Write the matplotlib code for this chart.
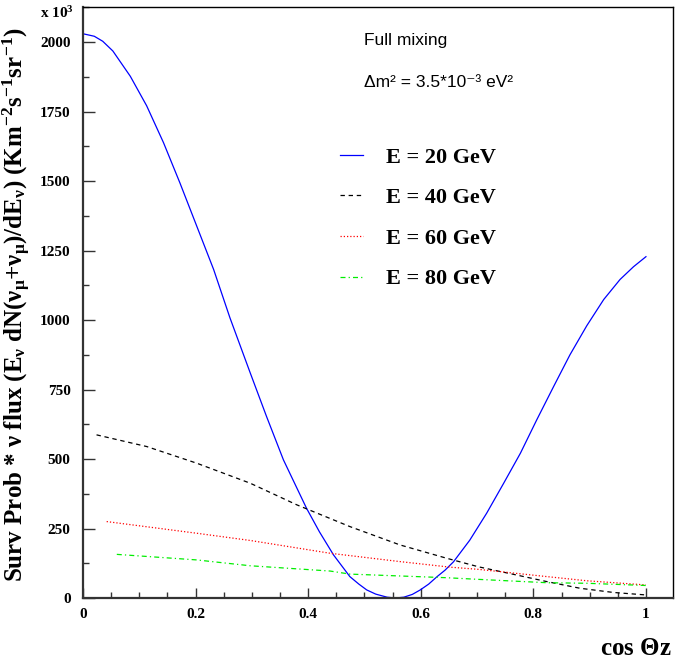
import matplotlib

matplotlib.use("Agg")
import matplotlib.pyplot as plt
from matplotlib.ticker import MultipleLocator

plt.rcParams["font.family"] = ["Liberation Serif", "DejaVu Serif"]
plt.rcParams["font.weight"] = "bold"
plt.rcParams["mathtext.fontset"] = "custom"
plt.rcParams["mathtext.rm"] = "Liberation Serif:bold"
plt.rcParams["mathtext.it"] = "Liberation Serif:bold"
plt.rcParams["mathtext.bf"] = "Liberation Serif:bold"

# values (y in units of 10^3)
cos_e20 = [0.0, 0.02, 0.035, 0.053, 0.084, 0.113, 0.143, 0.172, 0.202, 0.232,
           0.261, 0.297, 0.326, 0.356, 0.397, 0.42, 0.445, 0.474, 0.49, 0.504,
           0.52, 0.54, 0.555, 0.57, 0.585, 0.599, 0.614, 0.629, 0.643, 0.658,
           0.687, 0.717, 0.747, 0.777, 0.806, 0.836, 0.865, 0.895, 0.925, 0.954,
           0.978, 1.0]
flux_e20 = [2030, 2021, 2003, 1968, 1877, 1771, 1638, 1494, 1338, 1182,
            1008, 810, 653, 497, 323, 238, 155, 77, 50, 29,
            14, 3, 0, 3, 13, 29, 50, 77, 100, 130,
            208, 305, 412, 521, 641, 761, 875, 980, 1074, 1146,
            1192, 1228]

cos_e40 = [0.024, 0.113, 0.202, 0.297, 0.380, 0.474, 0.563, 0.646, 0.703,
           0.765, 0.824, 0.883, 0.942, 1.0]
flux_e40 = [587, 545, 485, 413, 335, 257, 191, 143, 112, 85, 59, 35, 20, 11]

cos_e60 = [0.042, 0.202, 0.297, 0.439, 0.563, 0.652, 0.703, 0.824, 0.895, 1.0]
flux_e60 = [275, 233, 207, 161, 131, 111, 103, 77, 62, 47]

cos_e80 = [0.060, 0.202, 0.297, 0.439, 0.474, 0.646, 0.703, 0.824, 0.895, 1.0]
flux_e80 = [157, 137, 116, 97, 86, 73, 67, 55, 53, 45]

labels = ["E = 20 GeV", "E = 40 GeV", "E = 60 GeV", "E = 80 GeV"]

fig = plt.figure(figsize=(6.75, 6.61), dpi=100)
ax = fig.add_axes([0.123, 0.0953, 0.874, 0.894])

ax.plot(cos_e20, flux_e20, color="#0000ff", lw=0.9, label=labels[0])
ax.plot(cos_e40, flux_e40, color="black", lw=0.9, dashes=(3.5, 3), label=labels[1])
ax.plot(cos_e60, flux_e60, color="#ff0000", lw=0.9, dashes=(1, 1.6), label=labels[2])
ax.plot(cos_e80, flux_e80, color="#00ee00", lw=0.9, dashes=(4, 2.5, 1, 2.5),
        label=labels[3])

ax.set_xlim(0, 1.048)
ax.set_ylim(0, 2126)
ax.xaxis.set_minor_locator(MultipleLocator(0.05))
ax.yaxis.set_minor_locator(MultipleLocator(125))
ax.set_xticks([0, 0.2, 0.4, 0.6, 0.8, 1.0])
ax.set_xticklabels(["0", "0.2", "0.4", "0.6", "0.8", "1"])
ax.set_yticks(range(0, 2001, 250))

ax.tick_params(axis="both", which="both", direction="in", top=False, right=False,
               labelsize=11, width=1, color="#333333")
ax.tick_params(axis="y", which="major", length=8.5, pad=9)
ax.tick_params(axis="y", which="minor", length=4.5)
ax.tick_params(axis="x", which="major", length=7.5, pad=7)
ax.tick_params(axis="x", which="minor", length=4)

for side in ["left", "bottom"]:
    ax.spines[side].set_linewidth(1.6)
    ax.spines[side].set_color("#333333")
for side in ["top", "right"]:
    ax.spines[side].set_linewidth(1.0)

ax.set_ylabel(r"Surv Prob * $\nu$ flux (E$_\nu$ dN($\nu_\mu$+$\nu_\mu$)/dE$_\nu$) "
              r"(Km$^{-2}$s$^{-1}$sr$^{-1}$)", fontsize=18, fontweight="bold")
ax.yaxis.set_label_coords(-0.085, 0.496)

ax.text(0.998, -0.085, r"cos $\Theta$z", transform=ax.transAxes, ha="right",
        va="center", fontsize=18)
ax.text(-0.073, 0.99, r"x 10$^{3}$", transform=ax.transAxes, ha="left",
        va="center", fontsize=11)

sans = ["Liberation Sans", "DejaVu Sans"]
ax.text(0.477, 0.944, "Full mixing", transform=ax.transAxes, fontsize=12.5,
        family=sans, weight="normal", va="center")
ax.text(0.477, 0.873, "Δm² = 3.5*10⁻³ eV²", transform=ax.transAxes, fontsize=12.5,
        family=sans, weight="normal", va="center")

ax.legend(loc="upper left", bbox_to_anchor=(0.436, 0.763), frameon=False,
          fontsize=16, handlelength=1.04, handletextpad=1.0, labelspacing=0.9,
          borderpad=0, borderaxespad=0)

fig.savefig("out.png", dpi=100)
